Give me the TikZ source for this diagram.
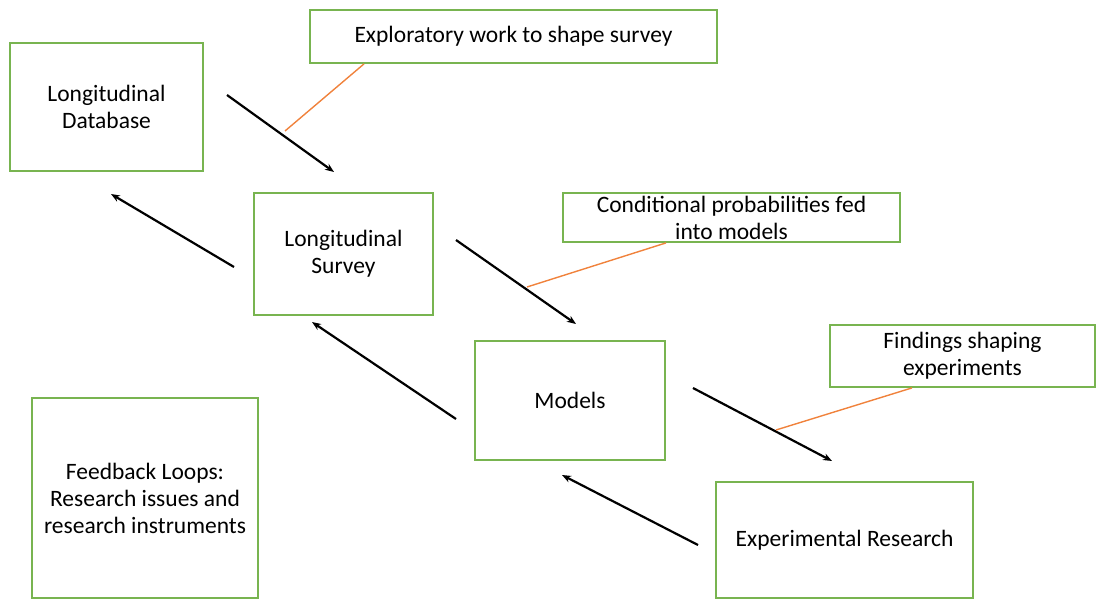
\documentclass[tikz,border=0pt]{standalone}
\usepackage{fontspec}
\setmainfont{Carlito}
\usetikzlibrary{arrows.meta}
\definecolor{boxgreen}{RGB}{120,180,80}
\definecolor{lineorange}{RGB}{240,130,60}
\begin{document}
\begin{tikzpicture}[x=1pt,y=-1pt,
  box/.style={draw=boxgreen,line width=1.8pt,fill=white,align=center,inner sep=0pt,font=\fontsize{23.5}{27}\selectfont},
  flow/.style={line width=2.2pt,-{Stealth[length=9pt,width=7pt]}},
  note/.style={draw=lineorange,line width=1.4pt}]
\useasboundingbox (0,0) rectangle (1096,599);
\node[box,minimum width=193,minimum height=128] (db) at (106.5,107) {Longitudinal\\Database};
\node[box,minimum width=407,minimum height=53] (expl) at (513.5,36.5) {Exploratory work to shape survey};
\node[box,minimum width=179,minimum height=122] (sv) at (343.5,254) {Longitudinal\\Survey};
\node[box,minimum width=337,minimum height=49] (cond) at (731.5,217.5) {Conditional probabilities fed\\into models};
\node[box,minimum width=190,minimum height=119] (mod) at (570,400.5) {Models};
\node[box,minimum width=265,minimum height=62] (find) at (962.5,356) {Findings shaping\\experiments};
\node[box,minimum width=226,minimum height=200] (fb) at (145,498) {Feedback Loops:\\Research issues and\\research instruments};
\node[box,minimum width=257,minimum height=116] (exp) at (844.5,540) {\raisebox{-3pt}{Experimental Research}};
% arrow end points
\coordinate (a1s) at (227,95);  \coordinate (a1e) at (334,172);
\coordinate (a2s) at (234,267); \coordinate (a2e) at (111,194);
\coordinate (a3s) at (456,240); \coordinate (a3e) at (576,324);
\coordinate (a4s) at (456,419); \coordinate (a4e) at (312,322);
\coordinate (a5s) at (693,388); \coordinate (a5e) at (832,461);
\coordinate (a6s) at (698,545); \coordinate (a6e) at (562,475);
\draw[flow] (a1s) -- (a1e);
\draw[flow] (a2s) -- (a2e);
\draw[flow] (a3s) -- (a3e);
\draw[flow] (a4s) -- (a4e);
\draw[flow] (a5s) -- (a5e);
\draw[flow] (a6s) -- (a6e);
% callout lines
\coordinate (o1) at (285,131);
\coordinate (o2) at (527,287);
\coordinate (o3) at (776,430);
\draw[note] (o1) -- (expl.south west -| 364,0);
\draw[note] (o2) -- (cond.south west -| 666,0);
\draw[note] (o3) -- (find.south west -| 912,0);
\end{tikzpicture}
\end{document}
